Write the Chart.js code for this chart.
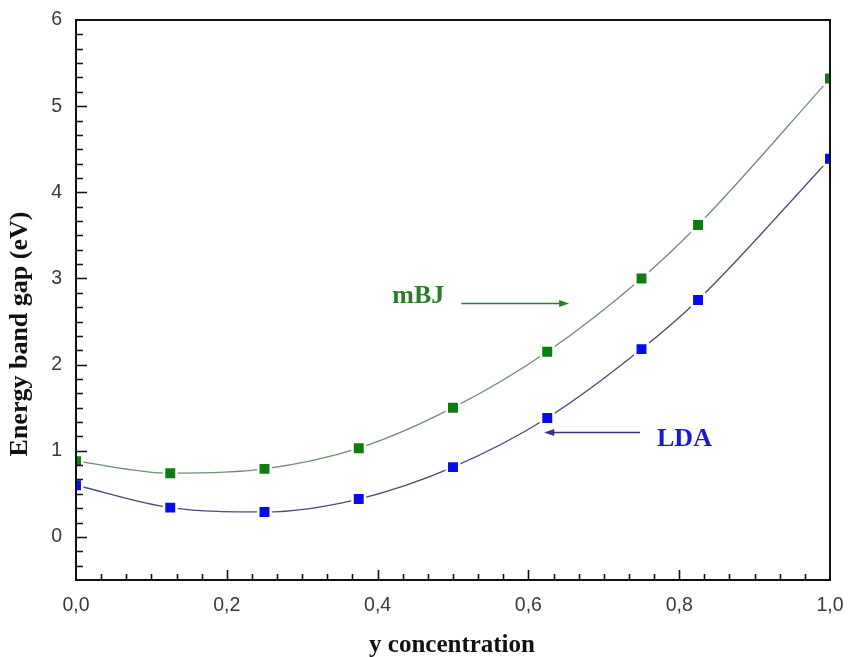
<!DOCTYPE html>
<html>
<head>
<meta charset="utf-8">
<script src="https://cdn.jsdelivr.net/npm/chart.js@4.4.1/dist/chart.umd.min.js"></script>
<style>
  html, body { margin: 0; padding: 0; background: #ffffff; }
  #wrap { width: 857px; height: 657px; position: relative; }
</style>
</head>
<body>
<div id="wrap"><canvas id="c" width="857" height="657"></canvas></div>
<script>
// ---- data ----
const concentration = [0, 0.125, 0.25, 0.375, 0.5, 0.625, 0.75, 0.825, 1.0];
const mbjGap = [0.88, 0.74, 0.79, 1.03, 1.50, 2.15, 3.00, 3.62, 5.32];
const ldaGap = [0.60, 0.34, 0.29, 0.44, 0.81, 1.38, 2.18, 2.75, 4.39];
const seriesNames = ['mBJ', 'LDA'];
const xTickValues = [0, 0.2, 0.4, 0.6, 0.8, 1.0];
const yTickValues = [0, 1, 2, 3, 4, 5, 6];
const xTitle = 'y concentration';
const yTitle = 'Energy band gap (eV)';
// annotation anchors in data units: [labelX, labelY, arrowFromX, arrowToX, arrowY]
const mbjNote = [0.454, 2.79, 0.511, 0.654, 2.71];
const ldaNote = [0.807, 1.13, 0.748, 0.621, 1.22];

const toPoints = (xs, ys) => xs.map((x, i) => ({ x: x, y: ys[i] }));
const fmt = v => v.toFixed(1).replace('.', ',');
const SERIF = '"Liberation Serif", "Times New Roman", serif';
const SANS = '"Liberation Sans", Arial, sans-serif';

const framePlugin = {
  id: 'frame',
  afterDatasetsDraw(chart) {
    const ctx = chart.ctx;
    const a = chart.chartArea;
    const xs = chart.scales.x, ys = chart.scales.y;
    ctx.save();
    ctx.strokeStyle = '#111';
    ctx.lineWidth = 2;
    ctx.strokeRect(a.left, a.top, a.right - a.left, a.bottom - a.top);
    ctx.lineWidth = 1.6;
    ctx.beginPath();
    // x ticks: major every 0.2, minor every 0.2/6 (inward)
    for (let k = 1; k < 30; k++) {
      const px = Math.round(xs.getPixelForValue(k / 30)) + 0.5;
      const len = (k % 6 === 0) ? 10 : 6;
      ctx.moveTo(px, a.bottom);
      ctx.lineTo(px, a.bottom - len);
    }
    // y ticks: major every 1, minor every 1/6 (inward)
    for (let k = -2; k < 36; k++) {
      const py = Math.round(ys.getPixelForValue(k / 6)) + 0.5;
      const len = (k % 6 === 0) ? 11 : 7;
      ctx.moveTo(a.left, py);
      ctx.lineTo(a.left + len, py);
    }
    ctx.stroke();
    ctx.restore();
  },
  afterDraw(chart) {
    const ctx = chart.ctx;
    const a = chart.chartArea;
    const xs = chart.scales.x, ys = chart.scales.y;
    ctx.save();
    // axis titles
    ctx.fillStyle = '#111';
    ctx.textAlign = 'center';
    ctx.textBaseline = 'alphabetic';
    ctx.font = 'bold 25px ' + SERIF;
    ctx.fillText(xTitle, (a.left + a.right) / 2 - 1, 652);
    ctx.save();
    ctx.translate(27, 334);
    ctx.rotate(-Math.PI / 2);
    ctx.font = 'bold 26px ' + SERIF;
    ctx.fillText(yTitle, 0, 0);
    ctx.restore();

    // annotations
    function note(n, text, textColor, lineColor) {
      const lx = xs.getPixelForValue(n[0]), ly = ys.getPixelForValue(n[1]);
      const x1 = xs.getPixelForValue(n[2]), x2 = xs.getPixelForValue(n[3]);
      const ay = Math.round(ys.getPixelForValue(n[4])) + 0.5;
      ctx.fillStyle = textColor;
      ctx.font = 'bold 26px ' + SERIF;
      ctx.textAlign = 'center';
      ctx.textBaseline = 'middle';
      ctx.fillText(text, lx, ly);
      ctx.strokeStyle = lineColor;
      ctx.fillStyle = lineColor;
      ctx.lineWidth = 1.4;
      const dir = Math.sign(x2 - x1);
      ctx.beginPath();
      ctx.moveTo(x1, ay);
      ctx.lineTo(x2 - dir * 6, ay);
      ctx.stroke();
      ctx.beginPath();
      ctx.moveTo(x2, ay);
      ctx.lineTo(x2 - dir * 10, ay - 3.5);
      ctx.lineTo(x2 - dir * 10, ay + 3.5);
      ctx.closePath();
      ctx.fill();
    }
    note(mbjNote, seriesNames[0], '#2b7d2b', '#2f7a2f');
    note(ldaNote, seriesNames[1], '#1a1ad6', '#333380');
    ctx.restore();
  }
};

new Chart(document.getElementById('c'), {
  type: 'scatter',
  data: {
    datasets: [
      {
        label: seriesNames[0],
        data: toPoints(concentration, mbjGap),
        showLine: true,
        borderColor: '#6f8f6f',
        borderWidth: 1.3,
        cubicInterpolationMode: 'monotone',
        pointStyle: 'rect',
        pointRadius: 8.8,
        pointBackgroundColor: '#0d7d0d',
        pointBorderColor: '#ffffff',
        pointBorderWidth: 2.5,
        pointHoverRadius: 8.8
      },
      {
        label: seriesNames[1],
        data: toPoints(concentration, ldaGap),
        showLine: true,
        borderColor: '#4a4a78',
        borderWidth: 1.3,
        cubicInterpolationMode: 'monotone',
        pointStyle: 'rect',
        pointRadius: 8.8,
        pointBackgroundColor: '#0a0aee',
        pointBorderColor: '#ffffff',
        pointBorderWidth: 2.5,
        pointHoverRadius: 8.8
      }
    ]
  },
  options: {
    responsive: false,
    animation: false,
    events: [],
    layout: { padding: { top: 20, right: 27, left: 0, bottom: 0 } },
    plugins: {
      legend: { display: false },
      tooltip: { enabled: false }
    },
    scales: {
      x: {
        type: 'linear',
        min: 0,
        max: 1,
        grid: { display: false, drawTicks: false },
        border: { display: false },
        afterFit(s) { s.height = 77; s.paddingLeft = 0; s.paddingRight = 0; },
        afterBuildTicks(s) { s.ticks = xTickValues.map(v => ({ value: v })); },
        ticks: {
          padding: 14,
          autoSkip: false,
          maxRotation: 0,
          color: '#3a3a3a',
          font: { family: SANS, size: 19.5 },
          callback: v => fmt(v)
        }
      },
      y: {
        type: 'linear',
        min: -0.5,
        max: 6,
        grid: { display: false, drawTicks: false },
        border: { display: false },
        afterFit(s) { s.width = 76; s.paddingTop = 0; s.paddingBottom = 0; },
        afterBuildTicks(s) { s.ticks = yTickValues.map(v => ({ value: v })); },
        ticks: {
          padding: 14,
          color: '#3a3a3a',
          font: { family: SANS, size: 19.5 },
          callback: v => String(v)
        }
      }
    }
  },
  plugins: [framePlugin]
});
</script>
</body>
</html>
